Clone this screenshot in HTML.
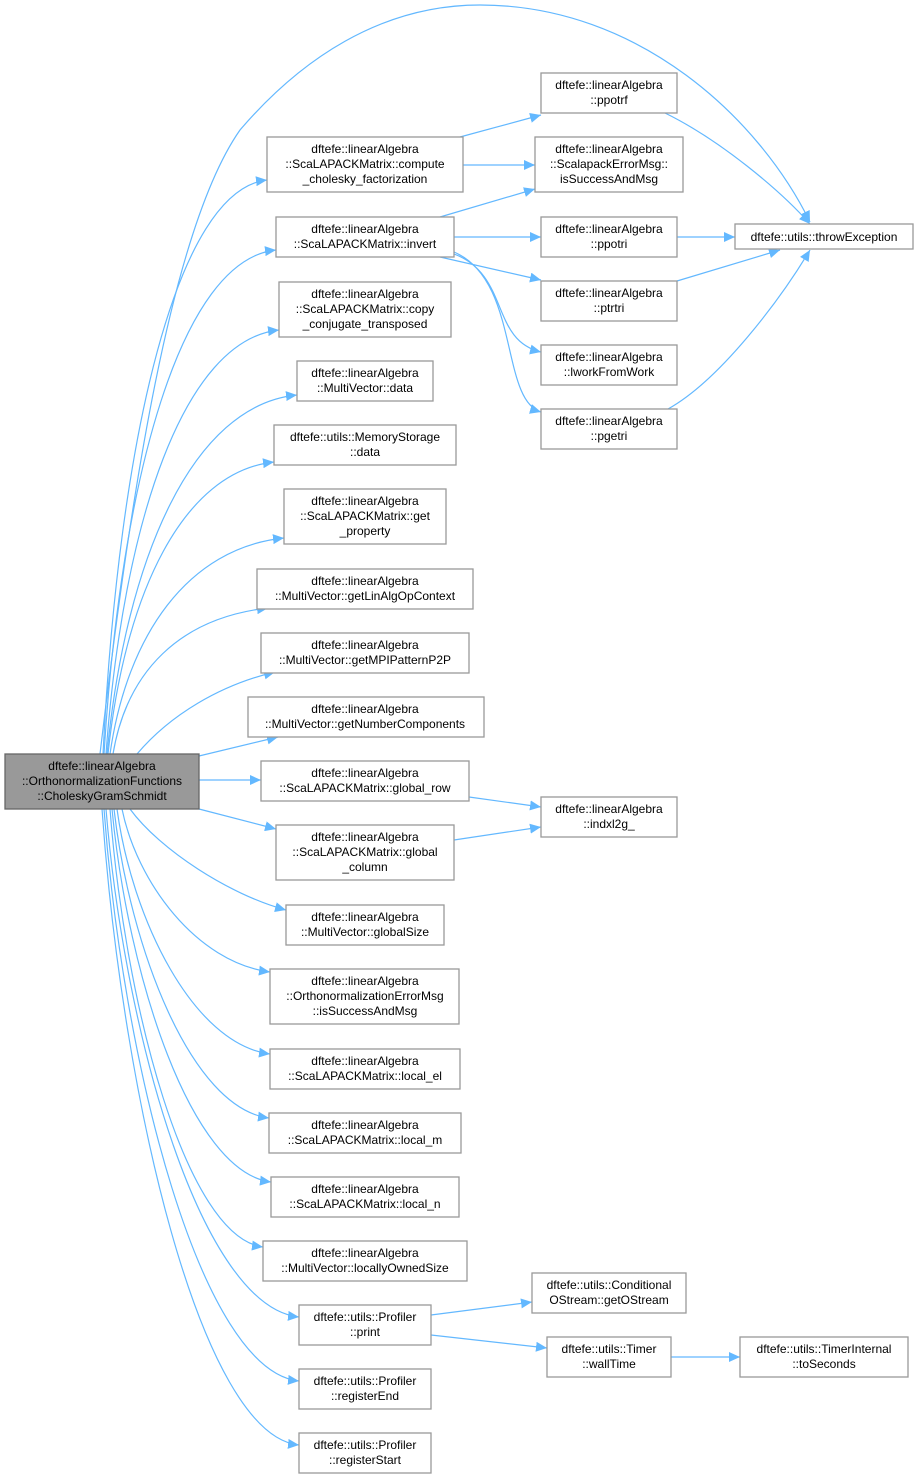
<!DOCTYPE html>
<html><head><meta charset="utf-8"><style>
html,body{margin:0;padding:0;background:#fff;}
svg{display:block;}
text{font-family:"Liberation Sans",sans-serif;font-size:12px;fill:#000;}
.n{fill:#fff;stroke:#999;stroke-width:1.3;}
.e{fill:none;stroke:#63b8ff;stroke-width:1.2;}
</style></head><body>
<svg width="919" height="1479" viewBox="0 0 919 1479" xmlns="http://www.w3.org/2000/svg">
<defs><marker id="a" markerUnits="userSpaceOnUse" markerWidth="12" markerHeight="10" refX="11" refY="5" orient="auto"><path d="M0,0 L11,5 L0,10 Z" fill="#63b8ff"/></marker></defs>
<g class="e" marker-end="url(#a)">
<path d="M100 754 C130 500 170 230 240 130 C300 60 380 5 480 5 C640 5 760 120 810 222"/>
<path d="M103 754 C119 436 177 190 267 180"/>
<path d="M104 754 C121 477 181 260 276 250"/>
<path d="M106 754 C123 521 184 340 279 330"/>
<path d="M107 754 C126 557 193 405 297 395"/>
<path d="M108 754 C125 593 183 472 274 462"/>
<path d="M110 754 C127 635 188 548 284 538"/>
<path d="M113 754 C127 671 180 618 268 608"/>
<path d="M137 754 C170 715 220 685 275 672"/>
<path d="M199 756 L278 737"/>
<path d="M199 780 L261 780"/>
<path d="M199 809 L276 829"/>
<path d="M130 809 C160 850 230 895 286 910"/>
<path d="M122 809 C137 882 196 962 270 972"/>
<path d="M117 809 C132 919 193 1044 270 1054"/>
<path d="M114 809 C130 948 191 1108 269 1118"/>
<path d="M112 809 C128 977 191 1172 271 1182"/>
<path d="M110 809 C125 1006 186 1237 263 1247"/>
<path d="M106 809 C125 1038 202 1307 299 1317"/>
<path d="M104 809 C123 1066 201 1371 299 1381"/>
<path d="M102 809 C122 1095 200 1435 299 1445"/>
<path d="M460 137 L541 115"/>
<path d="M463 165 L535 165"/>
<path d="M440 217 L535 189"/>
<path d="M454 237 L541 237"/>
<path d="M440 257 L541 280"/>
<path d="M454 254 C510 275 490 340 541 352"/>
<path d="M454 252 C520 280 500 400 541 412"/>
<path d="M665 113 C720 140 780 190 810 224"/>
<path d="M677 237 L735 237"/>
<path d="M677 281 L780 250"/>
<path d="M668 409 C720 380 780 300 810 250"/>
<path d="M469 797 L541 807"/>
<path d="M454 840 L541 827"/>
<path d="M431 1315 L532 1302"/>
<path d="M431 1335 L547 1348"/>
<path d="M671 1357 L740 1357"/>
</g>
<rect x="5" y="754" width="194" height="55" fill="#999" stroke="#666" stroke-width="1.3"/>
<text x="102" y="770" text-anchor="middle">dftefe::linearAlgebra</text>
<text x="102" y="785" text-anchor="middle">::OrthonormalizationFunctions</text>
<text x="102" y="800" text-anchor="middle">::CholeskyGramSchmidt</text>
<g>
<rect class="n" x="267" y="137" width="196" height="55"/><text x="365" y="153" text-anchor="middle">dftefe::linearAlgebra</text><text x="365" y="168" text-anchor="middle">::ScaLAPACKMatrix::compute</text><text x="365" y="183" text-anchor="middle">_cholesky_factorization</text>
<rect class="n" x="276" y="217" width="178" height="40"/><text x="365" y="233" text-anchor="middle">dftefe::linearAlgebra</text><text x="365" y="248" text-anchor="middle">::ScaLAPACKMatrix::invert</text>
<rect class="n" x="279" y="282" width="172" height="55"/><text x="365" y="298" text-anchor="middle">dftefe::linearAlgebra</text><text x="365" y="313" text-anchor="middle">::ScaLAPACKMatrix::copy</text><text x="365" y="328" text-anchor="middle">_conjugate_transposed</text>
<rect class="n" x="297" y="361" width="136" height="40"/><text x="365" y="377" text-anchor="middle">dftefe::linearAlgebra</text><text x="365" y="392" text-anchor="middle">::MultiVector::data</text>
<rect class="n" x="274" y="425" width="182" height="40"/><text x="365" y="441" text-anchor="middle">dftefe::utils::MemoryStorage</text><text x="365" y="456" text-anchor="middle">::data</text>
<rect class="n" x="284" y="489" width="162" height="55"/><text x="365" y="505" text-anchor="middle">dftefe::linearAlgebra</text><text x="365" y="520" text-anchor="middle">::ScaLAPACKMatrix::get</text><text x="365" y="535" text-anchor="middle">_property</text>
<rect class="n" x="257" y="569" width="216" height="40"/><text x="365" y="585" text-anchor="middle">dftefe::linearAlgebra</text><text x="365" y="600" text-anchor="middle">::MultiVector::getLinAlgOpContext</text>
<rect class="n" x="261" y="633" width="208" height="40"/><text x="365" y="649" text-anchor="middle">dftefe::linearAlgebra</text><text x="365" y="664" text-anchor="middle">::MultiVector::getMPIPatternP2P</text>
<rect class="n" x="248" y="697" width="236" height="40"/><text x="365" y="713" text-anchor="middle">dftefe::linearAlgebra</text><text x="365" y="728" text-anchor="middle">::MultiVector::getNumberComponents</text>
<rect class="n" x="261" y="761" width="208" height="40"/><text x="365" y="777" text-anchor="middle">dftefe::linearAlgebra</text><text x="365" y="792" text-anchor="middle">::ScaLAPACKMatrix::global_row</text>
<rect class="n" x="276" y="825" width="178" height="55"/><text x="365" y="841" text-anchor="middle">dftefe::linearAlgebra</text><text x="365" y="856" text-anchor="middle">::ScaLAPACKMatrix::global</text><text x="365" y="871" text-anchor="middle">_column</text>
<rect class="n" x="286" y="905" width="158" height="40"/><text x="365" y="921" text-anchor="middle">dftefe::linearAlgebra</text><text x="365" y="936" text-anchor="middle">::MultiVector::globalSize</text>
<rect class="n" x="270" y="969" width="189" height="55"/><text x="365" y="985" text-anchor="middle">dftefe::linearAlgebra</text><text x="365" y="1000" text-anchor="middle">::OrthonormalizationErrorMsg</text><text x="365" y="1015" text-anchor="middle">::isSuccessAndMsg</text>
<rect class="n" x="270" y="1049" width="190" height="40"/><text x="365" y="1065" text-anchor="middle">dftefe::linearAlgebra</text><text x="365" y="1080" text-anchor="middle">::ScaLAPACKMatrix::local_el</text>
<rect class="n" x="269" y="1113" width="192" height="40"/><text x="365" y="1129" text-anchor="middle">dftefe::linearAlgebra</text><text x="365" y="1144" text-anchor="middle">::ScaLAPACKMatrix::local_m</text>
<rect class="n" x="271" y="1177" width="188" height="40"/><text x="365" y="1193" text-anchor="middle">dftefe::linearAlgebra</text><text x="365" y="1208" text-anchor="middle">::ScaLAPACKMatrix::local_n</text>
<rect class="n" x="263" y="1241" width="204" height="40"/><text x="365" y="1257" text-anchor="middle">dftefe::linearAlgebra</text><text x="365" y="1272" text-anchor="middle">::MultiVector::locallyOwnedSize</text>
<rect class="n" x="299" y="1305" width="132" height="40"/><text x="365" y="1321" text-anchor="middle">dftefe::utils::Profiler</text><text x="365" y="1336" text-anchor="middle">::print</text>
<rect class="n" x="299" y="1369" width="132" height="40"/><text x="365" y="1385" text-anchor="middle">dftefe::utils::Profiler</text><text x="365" y="1400" text-anchor="middle">::registerEnd</text>
<rect class="n" x="299" y="1433" width="132" height="40"/><text x="365" y="1449" text-anchor="middle">dftefe::utils::Profiler</text><text x="365" y="1464" text-anchor="middle">::registerStart</text>

<rect class="n" x="541" y="73" width="136" height="40"/><text x="609" y="89" text-anchor="middle">dftefe::linearAlgebra</text><text x="609" y="104" text-anchor="middle">::ppotrf</text>
<rect class="n" x="535" y="137" width="148" height="55"/><text x="609" y="153" text-anchor="middle">dftefe::linearAlgebra</text><text x="609" y="168" text-anchor="middle">::ScalapackErrorMsg::</text><text x="609" y="183" text-anchor="middle">isSuccessAndMsg</text>
<rect class="n" x="541" y="217" width="136" height="40"/><text x="609" y="233" text-anchor="middle">dftefe::linearAlgebra</text><text x="609" y="248" text-anchor="middle">::ppotri</text>
<rect class="n" x="541" y="281" width="136" height="40"/><text x="609" y="297" text-anchor="middle">dftefe::linearAlgebra</text><text x="609" y="312" text-anchor="middle">::ptrtri</text>
<rect class="n" x="541" y="345" width="136" height="40"/><text x="609" y="361" text-anchor="middle">dftefe::linearAlgebra</text><text x="609" y="376" text-anchor="middle">::lworkFromWork</text>
<rect class="n" x="541" y="409" width="136" height="40"/><text x="609" y="425" text-anchor="middle">dftefe::linearAlgebra</text><text x="609" y="440" text-anchor="middle">::pgetri</text>
<rect class="n" x="541" y="797" width="136" height="40"/><text x="609" y="813" text-anchor="middle">dftefe::linearAlgebra</text><text x="609" y="828" text-anchor="middle">::indxl2g_</text>
<rect class="n" x="532" y="1273" width="154" height="40"/><text x="609" y="1289" text-anchor="middle">dftefe::utils::Conditional</text><text x="609" y="1304" text-anchor="middle">OStream::getOStream</text>
<rect class="n" x="547" y="1337" width="124" height="40"/><text x="609" y="1353" text-anchor="middle">dftefe::utils::Timer</text><text x="609" y="1368" text-anchor="middle">::wallTime</text>
<rect class="n" x="735" y="224" width="178" height="25"/><text x="824" y="241" text-anchor="middle">dftefe::utils::throwException</text>
<rect class="n" x="740" y="1337" width="168" height="40"/><text x="824" y="1353" text-anchor="middle">dftefe::utils::TimerInternal</text><text x="824" y="1368" text-anchor="middle">::toSeconds</text>
</g>
</svg>
</body></html>
